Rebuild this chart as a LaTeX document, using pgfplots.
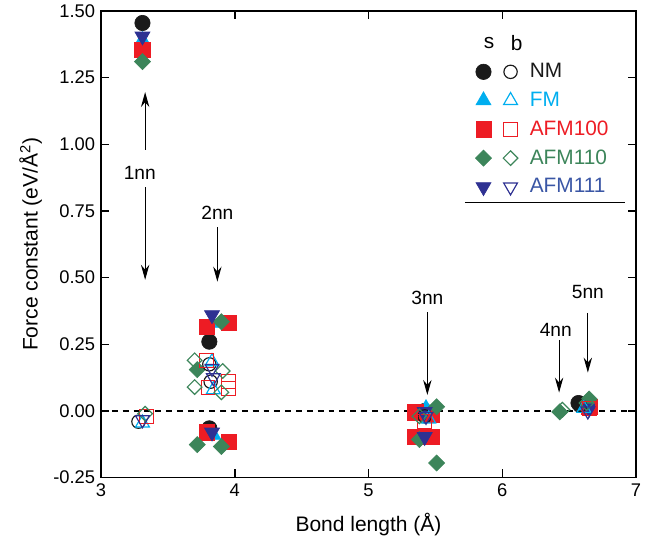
\documentclass[border=0pt]{standalone}
\usepackage{fontspec}
\setmainfont{Liberation Sans}
\usepackage{pgfplots}
\pgfplotsset{compat=1.18}
\usetikzlibrary{arrows.meta}
\definecolor{cNM}{HTML}{1A1A1A}
\definecolor{cFM}{HTML}{00AEEF}
\definecolor{cA100}{HTML}{ED1C24}
\definecolor{cA110}{HTML}{3C855A}
\definecolor{cA111}{HTML}{2E3192}
\definecolor{tA111}{HTML}{3A56A5}
\pgfplotsset{
  sNM/.style={only marks, mark=*, mark size=4.6pt, color=cNM},
  oNM/.style={only marks, mark=o, mark size=4pt, color=cNM, mark options={line width=0.7pt}},
  sFM/.style={only marks, mark=triangle*, mark size=5.2pt, color=cFM},
  oFM/.style={only marks, mark=triangle, mark size=4.8pt, color=cFM, mark options={line width=0.7pt}},
  sA100/.style={only marks, mark=square*, mark size=4.6pt, color=cA100},
  oA100/.style={only marks, mark=square, mark size=4.1pt, color=cA100, mark options={line width=0.7pt}},
  sA110/.style={only marks, mark=square*, mark size=3.4pt, color=cA110, mark options={rotate=45}},
  oA110/.style={only marks, mark=square, mark size=3.1pt, color=cA110, mark options={rotate=45, line width=0.7pt}},
  sA111/.style={only marks, mark=triangle*, mark size=5.2pt, color=cA111, mark options={rotate=180}},
  oA111/.style={only marks, mark=triangle, mark size=4.8pt, color=cA111, mark options={rotate=180, line width=0.7pt}},
}
\tikzset{annot/.style={font=\fontsize{11.5}{13}\selectfont},
  arr/.style={-{Stealth[length=9pt,width=5pt]}, line width=0.6pt}}
\begin{document}
\begin{tikzpicture}
\begin{axis}[
  name=ax,
  width=321pt, height=280pt, scale only axis,
  xmin=3, xmax=7, ymin=-0.25, ymax=1.5,
  xtick={3,4,5,6,7},
  ytick={-0.25,0,0.25,0.5,0.75,1,1.25,1.5},
  tick align=inside, major tick length=5pt,
  tick style={line width=0.9pt, black},
  axis line style={line width=0.9pt},
  yticklabel style={/pgf/number format/.cd, fixed, fixed zerofill, precision=2},
  /pgf/number format/assume math mode=true,
  ticklabel style={font=\fontsize{11}{13}\selectfont},
  xlabel={Bond length (Å)},
  ylabel={Force constant (eV/Å\textsuperscript{2})},
  label style={font=\fontsize{12.6}{15}\selectfont},
  xlabel style={yshift=-3pt},
  legend columns=2,
  legend style={draw=none, fill=none, at={(0.69,0.955)}, anchor=north west,
    font=\fontsize{12.5}{15}\selectfont, row sep=5.1pt,
    nodes={inner sep=1pt},
    /tikz/every odd column/.style={column sep=3.4pt}},
  legend cell align=left,
]
\addplot[forget plot, black, line width=0.8pt, dash pattern=on 3.5pt off 3pt] coordinates {(3,0) (7,0)};
% filled (s)
\addplot[sNM, forget plot] coordinates {(3.31,1.455) (3.81,0.26) (3.81,-0.065) (5.42,0.0) (6.57,0.03)};
\addplot[sFM, forget plot] coordinates {(3.31,1.39) (3.83,0.33) (3.84,-0.09) (5.43,0.01) (6.63,0.02)};
\addplot[sA100, forget plot] coordinates {(3.31,1.355) (3.79,0.316) (3.955,0.331) (3.79,-0.08) (3.955,-0.115) (5.35,-0.005) (5.47,-0.015) (5.35,-0.097) (5.47,-0.097) (6.65,0.015)};
\addplot[sA110, forget plot] coordinates {(3.31,1.31) (3.90,0.335) (3.72,0.155) (3.72,-0.126) (3.90,-0.133) (5.51,0.016) (5.38,-0.107) (5.51,-0.195) (6.43,-0.003) (6.65,0.045)};
\addplot[sA111, forget plot] coordinates {(3.31,1.405) (3.83,0.36) (3.83,-0.08) (5.42,-0.003) (5.42,-0.097) (6.65,0.01)};
% open (b)
\addplot[oNM, forget plot] coordinates {(3.28,-0.04) (3.81,0.175) (3.82,0.11) (5.42,-0.02) (6.58,0.02)};
\addplot[oFM, forget plot] coordinates {(3.31,-0.045) (3.83,0.185) (3.84,0.08) (5.45,-0.03) (6.61,0.01)};
\addplot[oA100, forget plot] coordinates {(3.34,-0.02) (3.79,0.19) (3.955,0.11) (3.955,0.085) (3.80,0.088) (5.42,-0.04) (6.65,0.01)};
\addplot[oA110, forget plot] coordinates {(3.33,-0.01) (3.70,0.19) (3.91,0.15) (3.70,0.09) (3.90,0.07) (5.38,-0.02) (6.45,0.005) (6.63,0.03)};
\addplot[oA111, forget plot] coordinates {(3.31,-0.033) (3.84,0.125) (3.83,0.16) (5.43,-0.02) (6.64,0.0)};
% legend
\addlegendimage{legend image code/.code={\node[inner sep=0pt] at (0.3cm,0cm) {s};}}
\addlegendentry{}
\addlegendimage{legend image code/.code={\node[inner sep=0pt] at (0.3cm,0cm) {b};}}
\addlegendentry{}
\addlegendimage{sNM}\addlegendentry{}
\addlegendimage{oNM}\addlegendentry{\textcolor{cNM}{NM}}
\addlegendimage{sFM}\addlegendentry{}
\addlegendimage{oFM}\addlegendentry{\textcolor{cFM}{FM}}
\addlegendimage{sA100}\addlegendentry{}
\addlegendimage{oA100}\addlegendentry{\textcolor{cA100}{AFM100}}
\addlegendimage{sA110}\addlegendentry{}
\addlegendimage{oA110}\addlegendentry{\textcolor{cA110}{AFM110}}
\addlegendimage{sA111}\addlegendentry{}
\addlegendimage{oA111}\addlegendentry{\textcolor{tA111}{AFM111}}
% legend rule
\draw[line width=0.8pt] (rel axis cs:0.68,0.589) -- (rel axis cs:0.98,0.589);
% annotations
\node[annot] at (axis cs:3.29,0.893) {1nn};
\draw[arr] (axis cs:3.33,0.979) -- (axis cs:3.33,1.196);
\draw[arr] (axis cs:3.33,0.84) -- (axis cs:3.33,0.492);
\node[annot] at (axis cs:3.87,0.744) {2nn};
\draw[arr] (axis cs:3.87,0.69) -- (axis cs:3.87,0.485);
\node[annot] at (axis cs:5.44,0.424) {3nn};
\draw[arr] (axis cs:5.44,0.37) -- (axis cs:5.44,0.06);
\node[annot] at (axis cs:6.40,0.305) {4nn};
\draw[arr] (axis cs:6.425,0.267) -- (axis cs:6.425,0.069);
\node[annot] at (axis cs:6.64,0.446) {5nn};
\draw[arr] (axis cs:6.64,0.368) -- (axis cs:6.64,0.144);
\end{axis}
\pgfresetboundingbox
\path ([shift={(-60.6pt,-38.4pt)}]ax.south west) rectangle ([shift={(10.8pt,6.6pt)}]ax.north east);
\end{tikzpicture}
\end{document}
